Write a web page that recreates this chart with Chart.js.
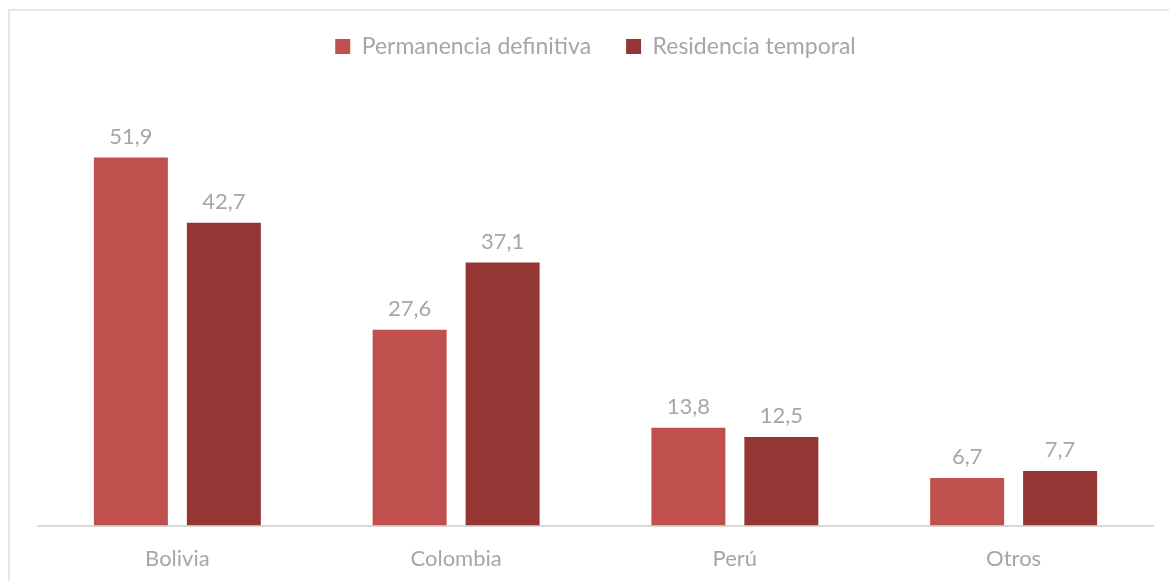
<!DOCTYPE html>
<html>
<head>
<meta charset="utf-8">
<script src="https://cdn.jsdelivr.net/npm/chart.js@4"></script>
<style>
  html, body { margin: 0; padding: 0; background: #fff; overflow: hidden; }
  #frame { position: absolute; left: 8px; top: 9px; width: 2000px; height: 2000px;
           border-top: 2px solid #E6E6E6; border-left: 2px solid #E6E6E6; }
  #wrap { position: absolute; left: 0; top: 0; width: 1169px; height: 592px; }
</style>
</head>
<body>
<div id="frame"></div>
<div id="wrap"><canvas id="chart"></canvas></div>
<script>
// Data
const categories = ['Bolivia', 'Colombia', 'Perú', 'Otros'];
const permanencia = [51.9, 27.6, 13.8, 6.7];
const residencia = [42.7, 37.1, 12.5, 7.7];

const COLORS = {
  permanencia: '#C0504D',
  residencia: '#943634',
  text: '#A6A6A6',
  axis: '#D9D9D9'
};

const FONT = 'Lato, "Open Sans", sans-serif';

// push the plot area down below the legend
const legendSpace = {
  id: 'legendSpace',
  beforeInit(chart) {
    const fit = chart.legend.fit;
    chart.legend.fit = function () {
      fit.bind(chart.legend)();
      this.height = 100;
    };
  }
};

// value labels over the bars, decimal comma
const valueLabels = {
  id: 'valueLabels',
  afterDatasetsDraw(chart) {
    const ctx = chart.ctx;
    ctx.save();
    ctx.font = '22px ' + FONT;
    ctx.fillStyle = COLORS.text;
    ctx.textAlign = 'center';
    ctx.textBaseline = 'bottom';
    chart.data.datasets.forEach((ds, i) => {
      const meta = chart.getDatasetMeta(i);
      meta.data.forEach((bar, j) => {
        ctx.fillText(ds.data[j].toFixed(1).replace('.', ','), bar.x, bar.y - 10);
      });
    });
    ctx.restore();
  }
};

new Chart(document.getElementById('chart'), {
  type: 'bar',
  data: {
    labels: categories,
    datasets: [
      { label: 'Permanencia definitiva', data: permanencia, backgroundColor: COLORS.permanencia,
        categoryPercentage: 0.667, barPercentage: 0.796 },
      { label: 'Residencia temporal', data: residencia, backgroundColor: COLORS.residencia,
        categoryPercentage: 0.667, barPercentage: 0.796 }
    ]
  },
  options: {
    responsive: true,
    maintainAspectRatio: false,
    animation: false,
    layout: { padding: { left: 38, right: 16, top: 0, bottom: 0 } },
    plugins: {
      legend: {
        position: 'top',
        labels: {
          boxWidth: 15,
          boxHeight: 15,
          padding: 35,
          color: COLORS.text,
          font: { family: FONT, size: 23 }
        }
      },
      tooltip: { enabled: false }
    },
    scales: {
      x: {
        grid: { display: false, drawTicks: false },
        border: { color: COLORS.axis, width: 2 },
        ticks: { color: COLORS.text, padding: 20, font: { family: FONT, size: 22 } }
      },
      y: {
        display: false,
        min: 0,
        max: 60
      }
    }
  },
  plugins: [legendSpace, valueLabels]
});
</script>
</body>
</html>
